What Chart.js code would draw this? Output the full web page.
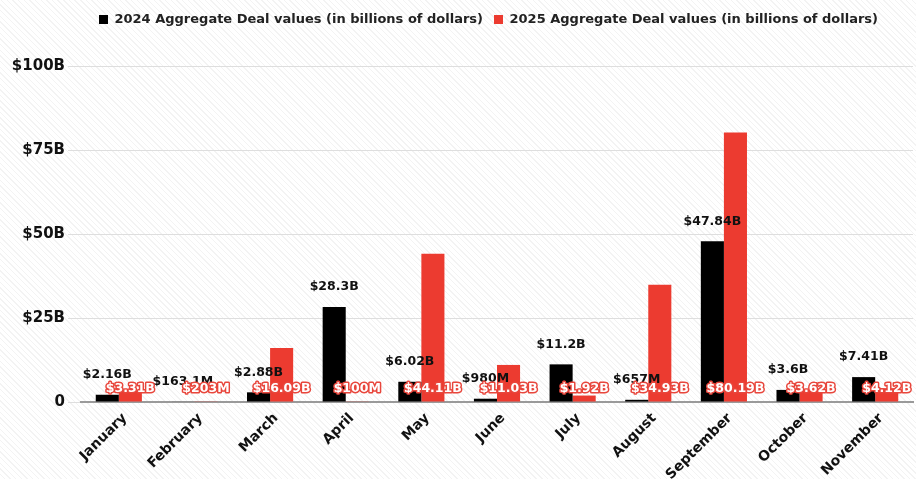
<!DOCTYPE html>
<html>
<head>
<meta charset="utf-8">
<script src="https://cdn.jsdelivr.net/npm/chart.js@4.4.1/dist/chart.umd.min.js"></script>
<style>
  html, body { margin: 0; padding: 0; }
  body {
    width: 916px; height: 479px; overflow: hidden;
    background: repeating-linear-gradient(45deg, #ffffff 0px, #ffffff 3px, #f3f3f3 3px, #f3f3f3 4px);
  }
  #wrap { position: relative; width: 916px; height: 479px; }
</style>
</head>
<body>
<div id="wrap"><canvas id="dealChart"></canvas></div>
<script>
const months = ['January', 'February', 'March', 'April', 'May', 'June', 'July', 'August', 'September', 'October', 'November'];
// values in billions of dollars
const deals2024 = [2.16, 0.1631, 2.88, 28.3, 6.02, 0.98, 11.2, 0.657, 47.84, 3.6, 7.41];
const deals2025 = [3.31, 0.203, 16.09, 0.1, 44.11, 11.03, 1.92, 34.93, 80.19, 3.62, 4.12];
const yTicks = [0, 25, 50, 75, 100];

const FONT = "'DejaVu Sans', sans-serif";

function money(v) {
    if (v < 1) return '$' + Math.round(v * 10000) / 10 + 'M';
    return '$' + v + 'B';
}

// value labels: black above 2024 bars, outlined white near the base for 2025
const valueLabels = {
    id: 'valueLabels',
    afterDatasetsDraw(chart) {
        const ctx = chart.ctx;
        const y0 = chart.scales.y.getPixelForValue(0);
        ctx.save();
        ctx.font = 'bold 12.5px ' + FONT;
        ctx.textAlign = 'center';
        ctx.textBaseline = 'middle';
        chart.getDatasetMeta(0).data.forEach((bar, i) => {
            ctx.fillStyle = '#111';
            ctx.fillText(money(deals2024[i]), bar.x, bar.y - 20);
        });
        chart.getDatasetMeta(1).data.forEach((bar, i) => {
            const t = money(deals2025[i]);
            ctx.lineJoin = 'round';
            ctx.lineWidth = 3;
            ctx.strokeStyle = '#e8463c';
            ctx.strokeText(t, bar.x, y0 - 13);
            ctx.fillStyle = '#ffffff';
            ctx.fillText(t, bar.x, y0 - 13);
        });
        ctx.restore();
    }
};

// extra room under the legend, and legend centred over the plot
const legendGap = {
    id: 'legendGap',
    beforeInit(chart) {
        const fit = chart.legend.fit;
        chart.legend.fit = function () {
            fit.call(this);
            this.height += 30;
        };
    },
    afterLayout(chart) {
        chart.legend.left += 32;
        chart.legend.right += 32;
    }
};

new Chart(document.getElementById('dealChart'), {
    type: 'bar',
    data: {
        labels: months,
        datasets: [{
            label: '2024 Aggregate Deal values (in billions of dollars)',
            data: deals2024,
            backgroundColor: '#000000',
            borderWidth: 0,
            categoryPercentage: 0.61,
            barPercentage: 1
        }, {
            label: '2025 Aggregate Deal values (in billions of dollars)',
            data: deals2025,
            backgroundColor: '#ec3b30',
            borderWidth: 0,
            categoryPercentage: 0.61,
            barPercentage: 1
        }]
    },
    options: {
        responsive: true,
        maintainAspectRatio: false,
        animation: false,
        layout: { padding: { top: 2, right: 3, left: 0, bottom: 0 } },
        plugins: {
            legend: {
                position: 'top',
                labels: {
                    boxWidth: 9,
                    boxHeight: 9,
                    padding: 11,
                    color: '#222',
                    font: { family: FONT, size: 13, weight: 'bold' }
                }
            },
            tooltip: { enabled: false }
        },
        scales: {
            x: {
                grid: { display: false },
                border: { color: '#9a9a9a', width: 2 },
                ticks: {
                    color: '#111',
                    maxRotation: 45,
                    minRotation: 45,
                    padding: 0,
                    labelOffset: 6,
                    font: { family: FONT, size: 14, weight: 'bold' }
                },
                afterFit(scale) { scale.height = 77; }
            },
            y: {
                min: 0,
                max: 100,
                grid: { color: '#dedede', tickLength: 13, tickColor: '#dedede' },
                border: { display: false },
                afterBuildTicks(scale) { scale.ticks = yTicks.map(v => ({ value: v })); },
                ticks: {
                    padding: 3,
                    color: '#111',
                    font: { family: FONT, size: 15, weight: 'bold' },
                    callback: v => v === 0 ? '0' : '$' + v + 'B'
                },
                afterFit(scale) { scale.width = 81; }
            }
        }
    },
    plugins: [valueLabels, legendGap]
});
</script>
</body>
</html>
